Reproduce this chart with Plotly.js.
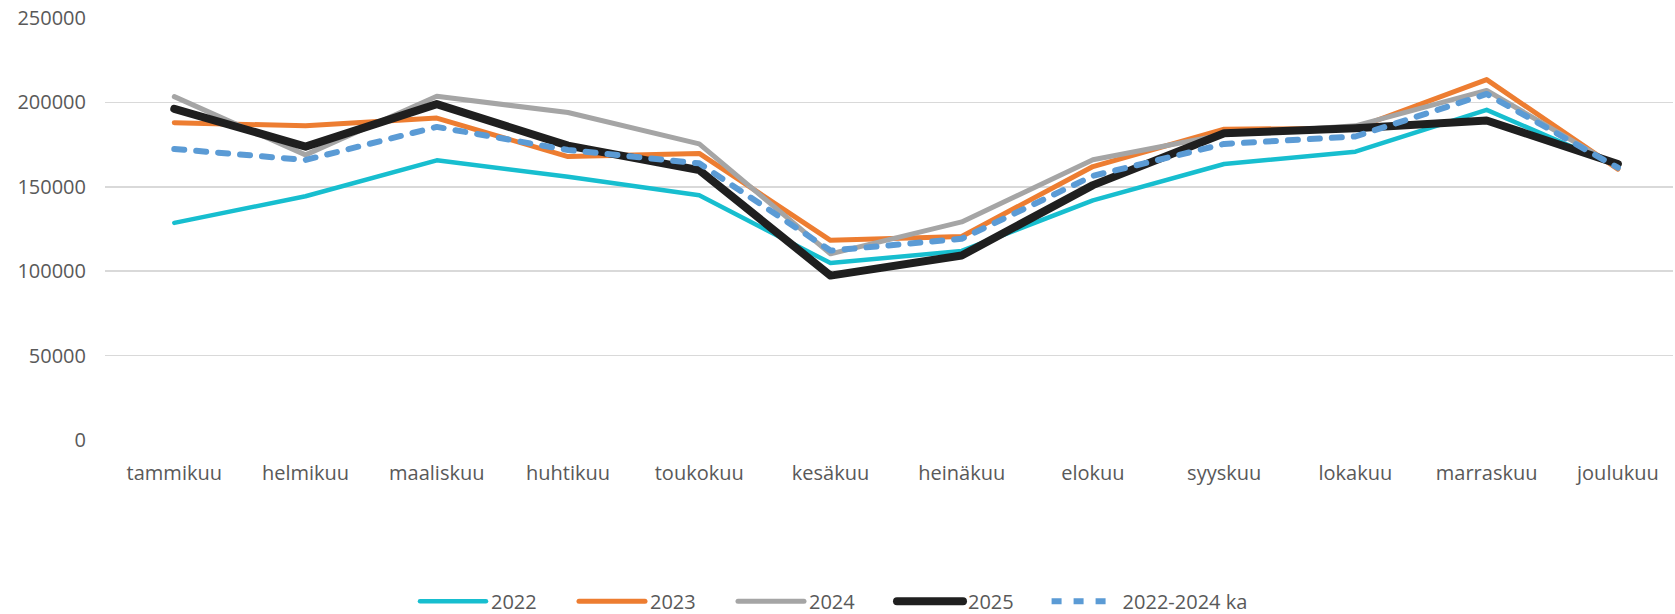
<!DOCTYPE html>
<html>
<head>
<meta charset="utf-8">
<script src="https://cdn.plot.ly/plotly-3.0.1.min.js"></script>
<style>
html,body{margin:0;padding:0;background:#fff;}
#chart{width:1675px;height:614px;}
.scatterlayer .js-line, .legend .js-line{stroke-linecap:round;stroke-linejoin:round;}
</style>
</head>
<body>
<div id="chart"></div>
<script>
const months = ["tammikuu","helmikuu","maaliskuu","huhtikuu","toukokuu","kesäkuu","heinäkuu","elokuu","syyskuu","lokakuu","marraskuu","joulukuu"];
const y2022 = [128600,144400,165700,156000,145000,104800,112000,142000,163500,170800,195600,162000];
const y2023 = [188000,186100,190700,167900,169800,118300,120600,162000,184100,184700,213500,160500];
const y2024 = [203400,168900,203600,194000,175400,110300,129200,166000,181000,186100,207100,161500];
const y2025 = [196200,173800,199000,174400,159900,97400,109300,151000,181700,184700,189300,163500];
const yAvg  = [172400,165900,185500,171800,163900,112200,119200,156500,175400,179800,205000,161300];
const seriesNames = ["2022","2023","2024","2025","2022-2024 ka"];

const font = "Open Sans, sans-serif";
const txt = "#595959";

function tr(name, y, color, width, dash, leg) {
  return {
    type: "scatter", mode: "lines", name: name, x: months, y: y,
    line: {color: color, width: width, dash: dash || "solid"},
    hoverinfo: "skip", legend: leg || "legend"
  };
}

const data = [
  tr(seriesNames[0], y2022, "#17BECF", 4.5),
  tr(seriesNames[1], y2023, "#ED7D31", 5),
  tr(seriesNames[2], y2024, "#A5A5A5", 5),
  tr(seriesNames[3], y2025, "#1F1F1F", 8),
  tr(seriesNames[4], yAvg, "#5B9BD5", 6, "10px,12px", "legend2")
];

const legBase = {
  orientation: "h", yanchor: "middle", y: -0.382, xanchor: "left",
  font: {family: font, size: 20, color: txt},
  itemwidth: 66, traceorder: "normal", bgcolor: "rgba(0,0,0,0)"
};

const layout = {
  width: 1675, height: 614,
  margin: {l: 105, r: 2, t: 18, b: 174, autoexpand: false},
  paper_bgcolor: "#fff", plot_bgcolor: "#fff",
  font: {family: font, color: txt, size: 20},
  showlegend: true,
  legend: Object.assign({}, legBase, {x: 0.1977, entrywidth: 78}),
  legend2: Object.assign({}, legBase, {x: 0.6005}),
  xaxis: {
    type: "category", range: [-0.528, 11.42],
    showgrid: false, zeroline: false, showline: false,
    ticks: "outside", ticklen: 15, tickcolor: "rgba(0,0,0,0)",
    tickfont: {family: font, size: 20, color: txt}
  },
  yaxis: {
    range: [0, 250000], tickvals: [0,50000,100000,150000,200000,250000],
    ticktext: ["0","50000","100000","150000","200000","250000"],
    showgrid: true, gridcolor: "#D9D9D9", gridwidth: 1.5,
    zeroline: false, showline: false,
    ticks: "outside", ticklen: 14, tickcolor: "rgba(0,0,0,0)",
    tickfont: {family: font, size: 20, color: txt}
  }
};

Plotly.newPlot("chart", data, layout, {displayModeBar: false, staticPlot: true});
</script>
</body>
</html>
